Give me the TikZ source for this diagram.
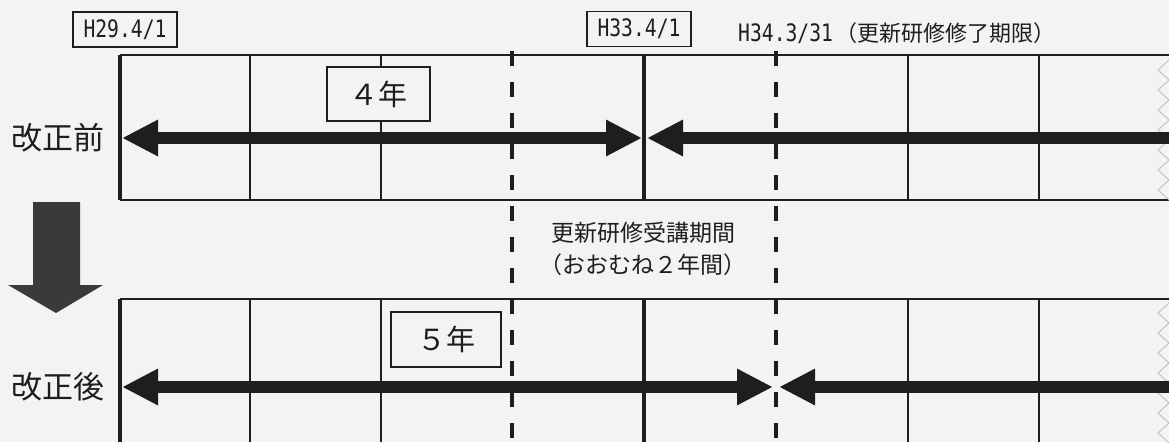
\documentclass[tikz,border=0pt]{standalone}
\usepackage{fontspec}
\setmainfont{Noto Sans CJK JP}
\newfontfamily\mono[FakeStretch=0.82]{DejaVu Sans Mono}
\usetikzlibrary{arrows.meta}
\definecolor{paper}{HTML}{F3F3F1}
\definecolor{ink}{HTML}{1E1E1E}
\definecolor{downgray}{HTML}{3A3A3A}
\tikzset{
  thin grid/.style={draw=ink, line width=1.5pt},
  thick grid/.style={draw=ink, line width=3.4pt},
  dash grid/.style={draw=ink, line width=3.6pt, dash pattern=on 15pt off 16pt},
  bigarrow/.style={draw=ink, line width=12pt, -{Triangle[length=36pt,width=34pt]}},
  bigdouble/.style={draw=ink, line width=12pt, {Triangle[length=36pt,width=34pt]}-{Triangle[length=36pt,width=34pt]}},
  lab/.style={inner sep=0pt, font=\fontsize{31}{31}\selectfont, text=ink},
  datebox/.style={draw=ink, line width=1.5pt, fill=paper, inner sep=0pt, text=ink,
     font=\mono\fontsize{24}{24}\selectfont, minimum width=104pt, minimum height=35pt},
  yearbox/.style={draw=ink, line width=1.5pt, fill=paper, inner sep=0pt, text=ink,
     font=\fontsize{29}{29}\selectfont},
  note/.style={inner sep=0pt, text=ink, align=center, font=\fontsize{23}{32}\selectfont},
  tear/.style={draw=gray!55, line width=0.8pt}
}
\begin{document}
\begin{tikzpicture}[x=1pt,y=-1pt]
\useasboundingbox (0,0) rectangle (1169,442);
\fill[paper] (0,0) rectangle (1169,442);

% grid coordinates
\foreach \i/\x in {0/120,1/250,2/381,3/512,4/644,5/776,6/908,7/1039,8/1169}{
  \coordinate (t\i) at (\x,55);
  \coordinate (m\i) at (\x,200);
  \coordinate (u\i) at (\x,299);
  \coordinate (b\i) at (\x,442);
}
% top grid
\draw[thin grid] (t0) -- (t8);
\draw[thin grid] (m0) -- (m8);
\foreach \i in {1,2,6,7}{\draw[thin grid] (t\i) -- (m\i);}
\draw[thick grid] (t0) -- (m0);
\draw[thick grid] (t4) -- (m4);
% bottom grid
\draw[thin grid] (u0) -- (u8);
\foreach \i in {1,2,6,7}{\draw[thin grid] (u\i) -- (b\i);}
\draw[thick grid] (u0) -- (b0);
\draw[thick grid] (u4) -- (b4);
% dashed period lines
\draw[dash grid] ([yshift=4pt]t3) -- (b3);
\draw[dash grid] ([yshift=4pt]t5) -- (b5);

% tear marks at right edge
\draw[tear] (1169,60) \foreach \k in {0,...,6}{ -- (1158,{70+20*\k}) -- (1169,{80+20*\k}) };
\draw[tear] (1169,303) \foreach \k in {0,...,6}{ -- (1158,{313+20*\k}) -- (1169,{323+20*\k}) };

% labels
\node[lab] (before) at (58,138) {改正前};
\node[lab] (after) at (58,387) {改正後};
\node[datebox] (d1) at (125,29.5) {H29.4/1};
\node[datebox] (d2) at (639,29) {H33.4/1};
\node[inner sep=0pt, anchor=west, text=ink] (d3) at (738,33)
  {{\mono\fontsize{24}{24}\selectfont H34.3/31} {\fontsize{22}{22}\selectfont （更新研修修了期限）}};
\node[yearbox, minimum width=103pt, minimum height=54pt] (y4) at (378.5,94) {４年};
\node[yearbox, minimum width=110pt, minimum height=55pt] (y5) at (446,339.5) {５年};
\node[note] (period) at (643,249) {更新研修受講期間\\（おおむね２年間）};

% arrow coordinates
\coordinate (a1) at (122,138);
\coordinate (a2) at (642,138);
\coordinate (a3) at (1169,138);
\coordinate (a4) at (647,138);
\coordinate (c1) at (122,387);
\coordinate (c2) at (773,387);
\coordinate (c3) at (1169,387);
\coordinate (c4) at (779,387);
\draw[bigdouble] (a1) -- (a2);
\draw[bigarrow] (a3) -- (a4);
\draw[bigdouble] (c1) -- (c2);
\draw[bigarrow] (c3) -- (c4);

% down arrow
\fill[downgray] (33,202) -- (80,202) -- (80,285) -- (103,285) -- (56,313) -- (8,285) -- (33,285) -- cycle;
\end{tikzpicture}
\end{document}
